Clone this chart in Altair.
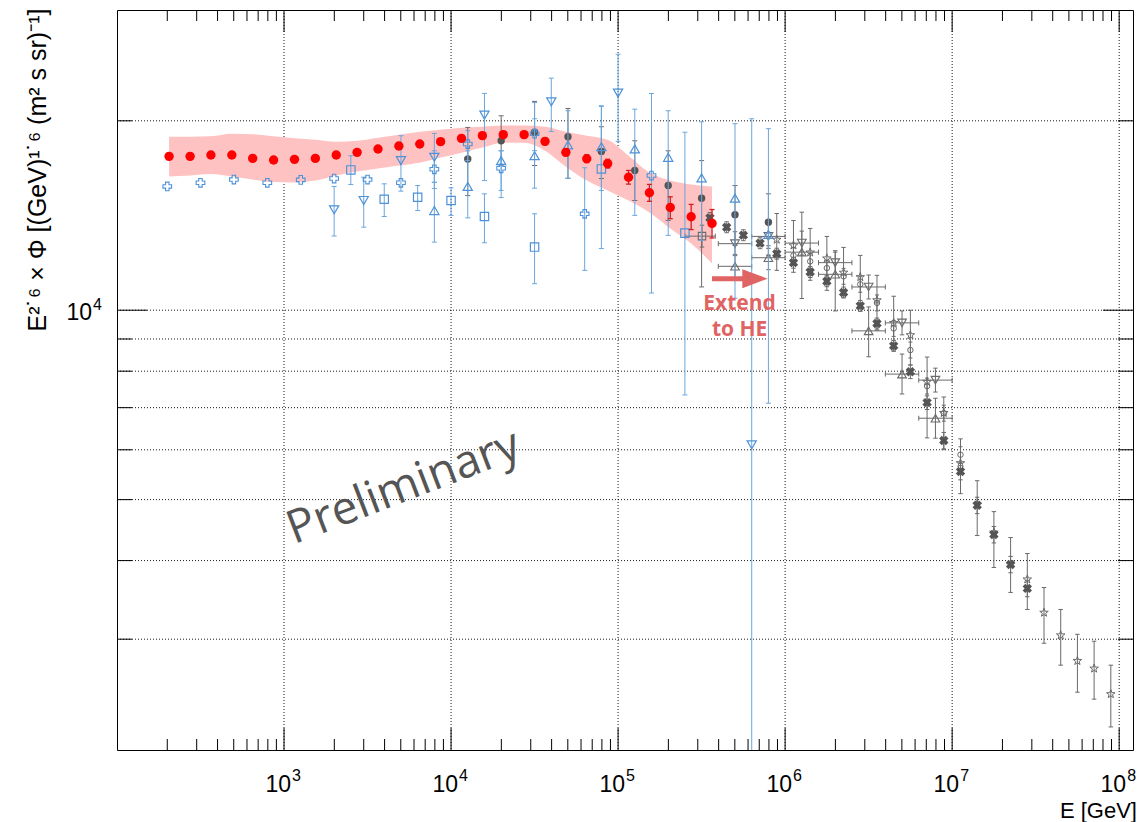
import altair as alt
import pandas as pd

# ---------------- data (E in GeV, flux = E^2.6 x Phi) ----------------
# red points with shaded band
red_E = [205, 274, 365, 487, 649, 866, 1155, 1540, 2054, 2738, 3652, 4870, 6494, 8660,
         11548, 15399, 20535, 27384, 36517, 48697, 64938, 86596, 115478, 153993, 205353,
         273842, 365174]
red_flux = [17560, 17560, 17650, 17650, 17430, 17330, 17370, 17430, 17650, 17820, 18040,
            18240, 18370, 18530, 18750, 18940, 19010, 19010, 18550, 17820, 17410, 17100,
            16270, 15370, 14560, 14080, 13740]
red_err_pct = [0.8, 0.8, 0.8, 0.8, 0.8, 0.8, 0.8, 0.8, 0.8, 0.8, 0.8, 0.8, 0.8, 0.9,
               1.0, 1.1, 1.2, 1.2, 1.2, 1.2, 1.4, 1.6, 2.5, 3.1, 4.0, 4.6, 5.2]
band_hi = [18870, 18870, 18900, 19080, 19040, 18900, 18770, 18660, 18530, 18590, 18800,
           19010, 19220, 19360, 19500, 19570, 19650, 19650, 19570, 19220, 18940, 18660,
           17600, 16550, 16070, 15840, 15730]
band_lo = [16310, 16370, 16460, 16310, 16130, 15980, 15960, 16070, 16370, 16610, 16790,
           16980, 17160, 17480, 17800, 18130, 18460, 18460, 17930, 16910, 16070, 15500,
           14940, 14300, 13490, 12770, 11870]

# blue open crosses
bp_E = [200, 316, 501, 794, 1259, 1995, 3162, 5012, 7943, 12589, 19953, 31623, 63096, 158489]
bp_flux = [15730, 15940, 16130, 15940, 16110, 16190, 16130, 15940, 16750, 18370, 16810, 19080, 14230, 16370]
bp_lo = [15730, 15940, 16130, 15940, 16110, 16190, 16130, 15940, 15610, 17290, 15500, 17930, 11570, 10650]
bp_hi = [15730, 15940, 16130, 15940, 16110, 16190, 16130, 15940, 17920, 19290, 17920, 20150, 16840, 22100]

# blue open squares
bs_E = [2512, 3981, 6310, 10000, 15849, 31623, 79433, 251189]
bs_flux = [16710, 15010, 15120, 14940, 14090, 12600, 16770, 13260]
bs_lo = [15840, 14090, 14400, 14150, 12800, 11020, 12530, 7334]
bs_hi = [17600, 15880, 15780, 15650, 15310, 14230, 21130, 19180]

# blue open down-triangles
bd_E = [1995, 3000, 5012, 7943, 15849, 39811, 100000, 630957]
bd_flux = [14440, 14940, 17290, 17500, 20420, 21440, 22130, 6110]
bd_lo = [13120, 13550, 15460, 15970, 16070, 19240, 18550, 1500]
bd_hi = [15730, 16270, 18940, 19100, 22110, 23380, 25520, 20150]

# blue open up-triangles
bu_E = [7943, 12589, 19953, 31623, 50119, 79433, 125893, 199526, 316228, 501187, 794328]
bu_flux = [14400, 15730, 17290, 17600, 18310, 18190, 18040, 17500, 16230, 15070, 13200]
bu_lo = [12830, 14020, 15100, 15630, 16190, 15500, 14150, 13150, 12910, 10450, 7115]
bu_hi = [15970, 17920, 17920, 21380, 20750, 21080, 20870, 20750, 19930, 19790, 19430]

# dark grey filled circles
gd_E = [12589, 19953, 31623, 50119, 79433, 125893, 199526, 316228, 501187, 794328]
gd_flux = [17390, 18590, 19180, 18870, 17880, 16670, 15780, 15070, 14180, 13800]
gd_lo = [15210, 17010, 16980, 16210, 16190, 14940, 13890, 10890, 12680, 12230]
gd_hi = [19520, 20370, 21470, 20920, 19570, 18590, 17920, 17290, 15780, 15310]

# grey filled X
gx_E = [354813, 446684, 562341, 707946, 891251, 1122018, 1412538, 1778279, 2238721,
        2818383, 3548134, 4466836, 5623413, 7079458, 8912509, 11220185, 14125375,
        17782794, 22387211, 28183829]
gx_flux = [14020, 13550, 13160, 12780, 12300, 11900, 11500, 11120, 10670, 10160, 9526,
           8777, 7985, 7131, 6207, 5542, 4897, 4399, 3944, 3613]
gx_err_pct = [2.0, 2.0, 2.0, 2.0, 2.0, 2.0, 2.0, 2.0, 2.0, 2.0, 2.0, 2.0, 2.5, 2.5,
              3.0, 3.0, 3.0, 3.0, 3.0, 3.0]

# grey open stars
gs_E = [891251, 1122018, 1412538, 1778279, 2238721, 2818383, 3548134, 4466836, 5623413,
        7079458, 8912509, 11220185, 14125375, 17782794, 22387211, 28183829, 35481339,
        44668359, 56234133, 70794578, 89125094]
gs_flux = [12945, 12675, 12355, 12088, 11475, 11290, 10372, 9547, 9128, 7694, 6867, 5714,
           4909, 4432, 3944, 3734, 3306, 3043, 2771, 2695, 2454]
gs_lo = [11570, 11488, 11157, 10757, 10486, 10184, 9296, 8643, 8182, 6267, 6002, 5110,
         4384, 3901, 3560, 3345, 2956, 2728, 2471, 2409, 2176]
gs_hi = [14246, 13888, 13489, 13100, 12584, 12221, 11361, 10524, 10000, 8424, 7279, 6245,
         5358, 4785, 4352, 4104, 3625, 3345, 3054, 2978, 2728]

# grey small open circles
gc_E = [1122018, 1412538, 1778279, 2238721, 2818383, 3548134, 4466836, 5623413, 7079458,
        8912509, 11220185]
gc_flux = [12221, 11957, 11668, 11321, 10995, 10270, 9354, 8643, 7575, 6860, 5893]
gc_lo = [11870, 11613, 11333, 10996, 10679, 9975, 9085, 8395, 7357, 6663, 5724]
gc_hi = [12583, 12311, 12013, 11656, 11320, 10574, 9631, 8899, 7799, 7063, 6067]

# grey open triangles with energy bins
gt_E = [501187, 794328, 1258925, 1995262, 3162278, 5011872, 7943282]
gt_Elo = [398107, 630957, 1000000, 1584893, 2511886, 3981072, 6309573]
gt_Ehi = [630957, 1000000, 1584893, 2511886, 3981072, 6309573, 10000000]
gdt_flux = [12757, 13100, 12785, 11901, 10887, 9547, 7743]
gdt_lo = [12211, 12540, 12238, 11392, 10421, 9138, 7412]
gdt_hi = [13327, 13686, 13357, 12433, 11374, 9974, 8089]
gut_flux = [11742, 12118, 12368, 11404, 9272, 7915, 6735]
gut_lo = [11240, 11600, 10436, 9974, 8433, 7360, 6260]
gut_hi = [12267, 12660, 14314, 12368, 10121, 8517, 7245]

# grey open square with bin
gq_E = [318000]
gq_Elo = [252000]
gq_Ehi = [382000]
gq_flux = [13114]
gq_lo = [12600]
gq_hi = [13650]

# axis decoration values
x_grid = [1e3, 1e4, 1e5, 1e6, 1e7, 1e8]
x_exp = ["3", "4", "5", "6", "7", "8"]
y_grid = [3000, 4000, 5000, 6000, 7000, 8000, 9000, 10000, 20000]
y_major = [10000]
y_minor = [3000, 4000, 5000, 6000, 7000, 8000, 9000, 20000]
x_minor = [k * 10 ** n for n in range(2, 8) for k in range(2, 10)]

# annotations
prelim_text = ["Preliminary"]
prelim_E = [5200]
prelim_flux = [5230]
ext_text = ["Extend\nto HE"]
ext_E = [534000]
ext_flux = [10230]
arrow_E = [365000, 610000]
arrow_head_E = [660000]
arrow_flux = [11224]

# ---------------- chart ----------------
W, H = 1016, 740
XS = alt.Scale(type="log", domain=[100, 1.21e8])
YS = alt.Scale(type="log", domain=[2000, 30000])
FONT = "Liberation Sans"
RED = "#ff0000"
BAND = "#ffc2c2"
REDBAR = "#d42020"
BLUE = "#4d92d8"
BLUEBAR = "#6aa6de"
GDARK = "#555555"
GRAY = "#6a6a6a"
ANNOT = "#e06464"
STAR = "M0,-1L0.235,-0.324L0.951,-0.309L0.38,0.124L0.588,0.809L0,0.4L-0.588,0.809L-0.38,0.124L-0.951,-0.309L-0.235,-0.324Z"
VSTROKE = "M0,-1L0,1"
HEAD = "M-1,-0.75L1,0L-1,0.75Z"


def xe(f="E"):
    return alt.X(f"{f}:Q", scale=XS, axis=None)


def ye(f="flux"):
    return alt.Y(f"{f}:Q", scale=YS, axis=None)


def errbars(E, lo, hi, color, cap=25, sw=1.0):
    d = pd.DataFrame({"E": E, "lo": lo, "hi": hi})
    d = d[d["lo"] < d["hi"]]
    rule = alt.Chart(d).mark_rule(color=color, strokeWidth=sw, clip=True).encode(
        x=xe(), y=ye("lo"), y2="hi:Q")
    c1 = alt.Chart(d).mark_point(shape="stroke", size=cap, color=color, strokeWidth=sw,
                                 opacity=1, clip=True).encode(x=xe(), y=ye("lo"))
    c2 = alt.Chart(d).mark_point(shape="stroke", size=cap, color=color, strokeWidth=sw,
                                 opacity=1, clip=True).encode(x=xe(), y=ye("hi"))
    return [rule, c1, c2]


def hbars(Elo, Ehi, flux, color, cap=25, sw=1.0):
    d = pd.DataFrame({"Elo": Elo, "Ehi": Ehi, "flux": flux})
    rule = alt.Chart(d).mark_rule(color=color, strokeWidth=sw, clip=True).encode(
        x=xe("Elo"), x2="Ehi:Q", y=ye())
    c1 = alt.Chart(d).mark_point(shape=VSTROKE, size=cap, color=color, strokeWidth=sw,
                                 opacity=1, clip=True).encode(x=xe("Elo"), y=ye())
    c2 = alt.Chart(d).mark_point(shape=VSTROKE, size=cap, color=color, strokeWidth=sw,
                                 opacity=1, clip=True).encode(x=xe("Ehi"), y=ye())
    return [rule, c1, c2]


def markers(E, flux, shape, color, size, filled=False, sw=1.2, angle=0):
    d = pd.DataFrame({"E": E, "flux": flux})
    if filled:
        mk = alt.Chart(d).mark_point(shape=shape, size=size, filled=True, color=color,
                                     opacity=1, strokeWidth=0, angle=angle, clip=True)
    else:
        mk = alt.Chart(d).mark_point(shape=shape, size=size, filled=False, color=color,
                                     opacity=1, strokeWidth=sw, angle=angle, clip=True)
    return mk.encode(x=xe(), y=ye())


layers = []

# grid
gxr = alt.Chart(pd.DataFrame({"E": x_grid})).mark_rule(
    color="black", strokeWidth=1, strokeDash=[1, 2], opacity=0.9).encode(
    x=xe(), y=alt.value(0), y2=alt.value(H))
gyr = alt.Chart(pd.DataFrame({"flux": y_grid})).mark_rule(
    color="black", strokeWidth=1, strokeDash=[1, 2], opacity=0.9).encode(
    y=ye(), x=alt.value(0), x2=alt.value(W))
layers += [gxr, gyr]

# band
band = alt.Chart(pd.DataFrame({"E": red_E, "lo": band_lo, "hi": band_hi})).mark_area(
    color=BAND, opacity=1, interpolate="monotone").encode(x=xe(), y=ye("lo"), y2="hi:Q")
layers.append(band)

# grey series
gx_lo = [f * (1 - p / 100) for f, p in zip(gx_flux, gx_err_pct)]
gx_hi = [f * (1 + p / 100) for f, p in zip(gx_flux, gx_err_pct)]
layers += errbars(gs_E, gs_lo, gs_hi, GRAY, cap=20)
layers += errbars(gc_E, gc_lo, gc_hi, GRAY, cap=16)
layers += errbars(gt_E, gdt_lo, gdt_hi, GRAY, cap=20)
layers += errbars(gt_E, gut_lo, gut_hi, GRAY, cap=20)
layers += hbars(gt_Elo, gt_Ehi, gdt_flux, GRAY)
layers += hbars(gt_Elo, gt_Ehi, gut_flux, GRAY)
layers += hbars(gq_Elo, gq_Ehi, gq_flux, GRAY)
layers += errbars(gq_E, gq_lo, gq_hi, GRAY, cap=20)
layers += errbars(gx_E, gx_lo, gx_hi, GRAY, cap=20)
layers += errbars(gd_E, gd_lo, gd_hi, GRAY, cap=25)
layers.append(markers(gs_E, gs_flux, STAR, GRAY, 80, sw=1.0))
layers.append(markers(gc_E, gc_flux, "circle", GRAY, 30, sw=1.0))
layers.append(markers(gt_E, gdt_flux, "triangle-down", GRAY, 75, sw=1.1))
layers.append(markers(gt_E, gut_flux, "triangle-up", GRAY, 75, sw=1.1))
layers.append(markers(gq_E, gq_flux, "square", GRAY, 55, sw=1.1))
layers.append(markers(gx_E, gx_flux, "cross", GDARK, 90, filled=True, angle=45))
layers.append(markers(gd_E, gd_flux, "circle", GDARK, 55, filled=True))

# blue series
layers += errbars(bp_E, bp_lo, bp_hi, BLUEBAR)
layers += errbars(bs_E, bs_lo, bs_hi, BLUEBAR)
layers += errbars(bd_E, bd_lo, bd_hi, BLUEBAR)
layers += errbars(bu_E, bu_lo, bu_hi, BLUEBAR)
layers.append(markers(bp_E, bp_flux, "cross", BLUE, 75, sw=1.1))
layers.append(markers(bs_E, bs_flux, "square", BLUE, 70, sw=1.2))
layers.append(markers(bd_E, bd_flux, "triangle-down", BLUE, 85, sw=1.2))
layers.append(markers(bu_E, bu_flux, "triangle-up", BLUE, 85, sw=1.2))

# red series
red_lo = [f * (1 - p / 100) for f, p in zip(red_flux, red_err_pct)]
red_hi = [f * (1 + p / 100) for f, p in zip(red_flux, red_err_pct)]
layers += errbars(red_E, red_lo, red_hi, REDBAR, cap=25, sw=1.3)
layers.append(markers(red_E, red_flux, "circle", RED, 88, filled=True))

# annotations
layers.append(alt.Chart(pd.DataFrame({"E": prelim_E, "flux": prelim_flux, "t": prelim_text}))
              .mark_text(angle=339, fontSize=46, font="Open Sans", color="#555555",
                         align="center", baseline="middle")
              .encode(x=xe(), y=ye(), text="t:N"))
layers.append(alt.Chart(pd.DataFrame({"E": ext_E, "flux": ext_flux, "t": ext_text}))
              .mark_text(fontSize=21, font="Open Sans", fontWeight="bold", color=ANNOT,
                         align="center", baseline="middle", lineBreak="\n", lineHeight=26)
              .encode(x=xe(), y=ye(), text="t:N"))
layers.append(alt.Chart(pd.DataFrame({"E": [arrow_E[0]], "E2": [arrow_E[1]], "flux": arrow_flux}))
              .mark_rule(color=ANNOT, strokeWidth=5)
              .encode(x=xe(), x2="E2:Q", y=ye()))
layers.append(alt.Chart(pd.DataFrame({"E": arrow_head_E, "flux": arrow_flux}))
              .mark_point(shape=HEAD, size=640, filled=True, color=ANNOT, opacity=1, strokeWidth=0)
              .encode(x=xe(), y=ye()))

# inward ticks
xmaj = pd.DataFrame({"E": x_grid})
xmin = pd.DataFrame({"E": x_minor})
layers += [
    alt.Chart(xmin).mark_rule(color="black", strokeWidth=1).encode(x=xe(), y=alt.value(H), y2=alt.value(H - 11)),
    alt.Chart(xmin).mark_rule(color="black", strokeWidth=1).encode(x=xe(), y=alt.value(0), y2=alt.value(11)),
    alt.Chart(xmaj).mark_rule(color="black", strokeWidth=1).encode(x=xe(), y=alt.value(H), y2=alt.value(H - 22)),
    alt.Chart(xmaj).mark_rule(color="black", strokeWidth=1).encode(x=xe(), y=alt.value(0), y2=alt.value(22)),
]
ymin = pd.DataFrame({"flux": y_minor})
ymaj = pd.DataFrame({"flux": y_major})
layers += [
    alt.Chart(ymin).mark_rule(color="black", strokeWidth=1).encode(y=ye(), x=alt.value(0), x2=alt.value(15)),
    alt.Chart(ymin).mark_rule(color="black", strokeWidth=1).encode(y=ye(), x=alt.value(W), x2=alt.value(W - 15)),
    alt.Chart(ymaj).mark_rule(color="black", strokeWidth=1).encode(y=ye(), x=alt.value(0), x2=alt.value(30)),
    alt.Chart(ymaj).mark_rule(color="black", strokeWidth=1).encode(y=ye(), x=alt.value(W), x2=alt.value(W - 30)),
]

# tick labels and titles
xl = pd.DataFrame({"E": x_grid, "base": ["10"] * len(x_grid), "exp": x_exp})
layers.append(alt.Chart(xl).mark_text(font=FONT, fontSize=23, align="right", baseline="alphabetic", dx=7)
              .encode(x=xe(), y=alt.value(H + 42), text="base:N"))
layers.append(alt.Chart(xl).mark_text(font=FONT, fontSize=16, align="left", baseline="alphabetic", dx=8)
              .encode(x=xe(), y=alt.value(H + 31), text="exp:N"))
yl = pd.DataFrame({"flux": y_major, "base": ["10"], "exp": ["4"]})
layers.append(alt.Chart(yl).mark_text(font=FONT, fontSize=23, align="right", baseline="alphabetic", dy=10)
              .encode(y=ye(), x=alt.value(-25), text="base:N"))
layers.append(alt.Chart(yl).mark_text(font=FONT, fontSize=16, align="left", baseline="alphabetic", dy=0)
              .encode(y=ye(), x=alt.value(-24), text="exp:N"))
layers.append(alt.Chart(pd.DataFrame({"t": ["E [GeV]"]})).mark_text(
    font=FONT, fontSize=22, align="right", baseline="alphabetic")
    .encode(x=alt.value(W + 4), y=alt.value(H + 68), text="t:N"))
layers.append(alt.Chart(pd.DataFrame({"t": ["E²˙⁶ × Φ [(GeV)¹˙⁶ (m² s sr)⁻¹]"]})).mark_text(
    font=FONT, fontSize=25, align="center", baseline="middle", angle=270)
    .encode(x=alt.value(-79), y=alt.value(160), text="t:N"))

chart = alt.layer(*layers).properties(
    width=W, height=H,
    autosize=alt.AutoSizeParams(type="none"),
    padding={"left": 117, "top": 10, "right": 9, "bottom": 72},
).configure_view(stroke="black", strokeWidth=1)

chart.save("out.html", embed_options={"renderer": "svg", "actions": False})
